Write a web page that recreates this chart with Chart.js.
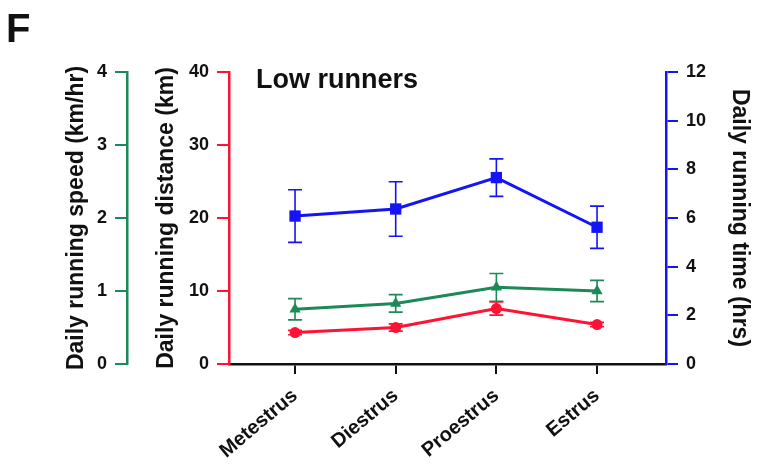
<!DOCTYPE html>
<html>
<head>
<meta charset="utf-8">
<script src="https://cdn.jsdelivr.net/npm/chart.js@4.4.0/dist/chart.umd.min.js"></script>
<style>
  body { margin: 0; background: #fff; }
  canvas { display: block; }
</style>
</head>
<body>
<canvas id="mychart" width="759" height="466"></canvas>
<script>
// -------- data --------
const phases = ['Metestrus', 'Diestrus', 'Proestrus', 'Estrus'];
const speed = [0.75, 0.83, 1.05, 1.00];          // km/hr
const speedErr = [0.145, 0.12, 0.19, 0.145];
const distance = [4.3, 5.0, 7.6, 5.4];           // km
const distanceErr = [0.3, 0.5, 0.9, 0.3];
const time = [6.08, 6.37, 7.66, 5.62];           // hrs
const timeErr = [1.08, 1.12, 0.77, 0.87];

const speedTicks = [0, 1, 2, 3, 4];
const distanceTicks = [0, 10, 20, 30, 40];
const timeTicks = [0, 2, 4, 6, 8, 10, 12];

const GREEN = '#1b8a57';
const RED = '#ff1234';
const BLUE = '#1414f5';
const FONT = 'Liberation Sans, Arial, sans-serif';

const toPoints = arr => arr.map((v, i) => ({x: i, y: v}));

// error bars with caps, drawn under the markers
const errorBars = {
  id: 'errorBars',
  beforeDatasetsDraw(chart) {
    const ctx = chart.ctx;
    const xs = chart.scales.x;
    chart.data.datasets.forEach(ds => {
      const ys = chart.scales[ds.yAxisID];
      ctx.save();
      ctx.strokeStyle = ds.borderColor;
      ctx.lineWidth = 1.6;
      ds.data.forEach((pt, j) => {
        const x = xs.getPixelForValue(pt.x);
        const top = ys.getPixelForValue(pt.y + ds.errors[j]);
        const bot = ys.getPixelForValue(pt.y - ds.errors[j]);
        ctx.beginPath();
        ctx.moveTo(x, top); ctx.lineTo(x, bot);
        ctx.moveTo(x - 7, top); ctx.lineTo(x + 7, top);
        ctx.moveTo(x - 7, bot); ctx.lineTo(x + 7, bot);
        ctx.stroke();
      });
      ctx.restore();
    });
  }
};

// panel letter and group label
const panelText = {
  id: 'panelText',
  afterDraw(chart) {
    const ctx = chart.ctx;
    ctx.save();
    ctx.fillStyle = '#111';
    ctx.textBaseline = 'alphabetic';
    ctx.font = 'bold 40px ' + FONT;
    ctx.fillText('F', 6, 42);
    ctx.font = 'bold 27px ' + FONT;
    ctx.fillText('Low runners', 256, 88);
    ctx.restore();
  }
};

function yAxis(color, title, ticks, pos, weight, width, titlePad) {
  return {
    type: 'linear',
    position: pos,
    weight: weight,
    min: ticks[0],
    max: ticks[ticks.length - 1],
    afterBuildTicks: s => { s.ticks = ticks.map(v => ({value: v})); },
    afterFit: s => { s.width = width; },
    border: {display: true, color: color, width: 2.5},
    grid: {drawOnChartArea: false, drawTicks: true, tickLength: 12, color: color, lineWidth: 2},
    ticks: {color: '#111', padding: 8, font: {family: FONT, size: 18, weight: 'bold'}},
    title: {
      display: true,
      text: title,
      color: '#111',
      padding: {top: titlePad, bottom: 0},
      font: {family: FONT, size: 23, weight: 'bold'}
    }
  };
}

const config = {
  type: 'line',
  data: {
    datasets: [
      {
        label: 'time',
        data: toPoints(time),
        errors: timeErr,
        yAxisID: 'yT',
        borderColor: BLUE,
        backgroundColor: BLUE,
        borderWidth: 3,
        pointStyle: 'rect',
        pointRadius: 8,
        pointBorderWidth: 0
      },
      {
        label: 'speed',
        data: toPoints(speed),
        errors: speedErr,
        yAxisID: 'yS',
        borderColor: GREEN,
        backgroundColor: GREEN,
        borderWidth: 3,
        pointStyle: 'triangle',
        pointRadius: 6.5,
        pointBorderWidth: 0
      },
      {
        label: 'distance',
        data: toPoints(distance),
        errors: distanceErr,
        yAxisID: 'yD',
        borderColor: RED,
        backgroundColor: RED,
        borderWidth: 3,
        pointStyle: 'circle',
        pointRadius: 5.5,
        pointBorderWidth: 0
      }
    ]
  },
  options: {
    responsive: false,
    animation: false,
    layout: {padding: {top: 72, left: 0, right: 0, bottom: 0}},
    plugins: {legend: {display: false}, tooltip: {enabled: false}},
    scales: {
      x: {
        type: 'linear',
        min: -0.656,
        max: 3.685,
        afterBuildTicks: s => { s.ticks = phases.map((p, i) => ({value: i})); },
        afterFit: s => { s.height = 102; },
        border: {display: true, color: '#111', width: 2.5},
        grid: {drawOnChartArea: false, drawTicks: true, tickLength: 10, color: '#111', lineWidth: 2},
        ticks: {
          autoSkip: false,
          minRotation: 40,
          maxRotation: 40,
          padding: 10,
          color: '#111',
          font: {family: FONT, size: 20, weight: 'bold'},
          callback: v => phases[v]
        }
      },
      yS: yAxis(GREEN, 'Daily running speed (km/hr)', speedTicks, 'left', 1, 127, 63),
      yD: yAxis(RED, 'Daily running distance (km)', distanceTicks, 'left', 0, 102, 26),
      yT: yAxis(BLUE, 'Daily running time (hrs)', timeTicks, 'right', 0, 93, 6)
    }
  },
  plugins: [errorBars, panelText]
};

const mychart = document.getElementById('mychart');
const chart = new Chart(mychart, config);
</script>
</body>
</html>
